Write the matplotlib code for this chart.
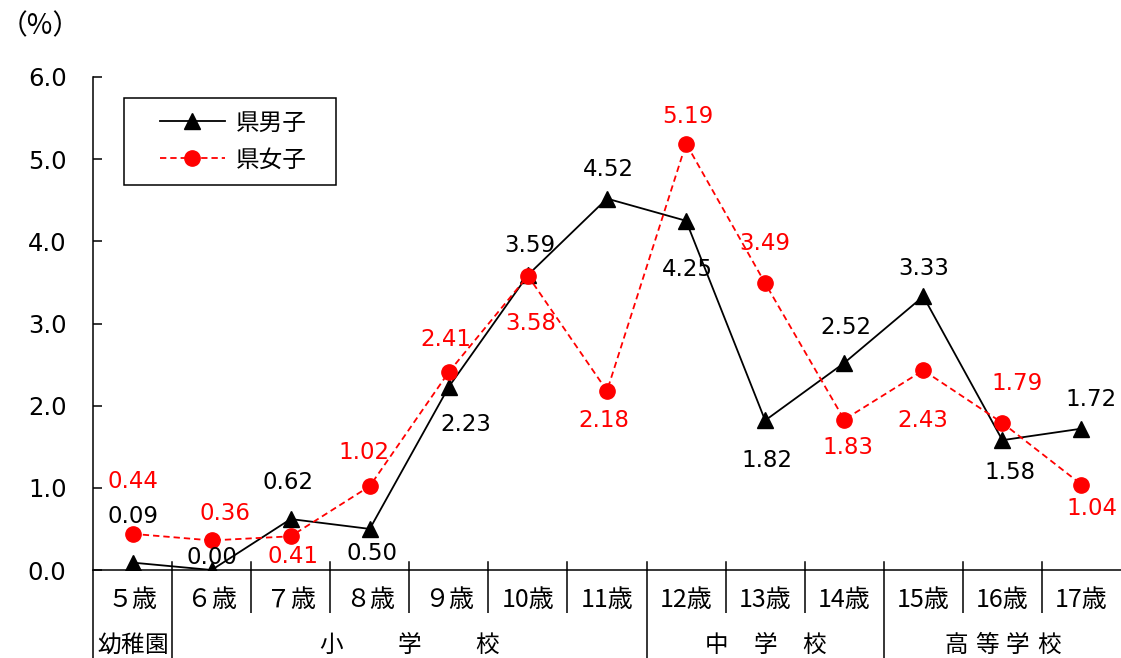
import matplotlib
matplotlib.use("Agg")
import matplotlib.pyplot as plt
import matplotlib.transforms as mtransforms
from matplotlib.patches import Rectangle

plt.rcParams['font.family'] = ['Noto Sans CJK JP', 'DejaVu Sans']

# ---- data ----
ages = ["５歳", "６歳", "７歳", "８歳", "９歳", "10歳", "11歳", "12歳", "13歳", "14歳", "15歳", "16歳", "17歳"]
male = [0.09, 0.00, 0.62, 0.50, 2.23, 3.59, 4.52, 4.25, 1.82, 2.52, 3.33, 1.58, 1.72]
female = [0.44, 0.36, 0.41, 1.02, 2.41, 3.58, 2.18, 5.19, 3.49, 1.83, 2.43, 1.79, 1.04]
groups = ["幼稚園", "小学校", "中学校", "高等学校"]
group_first = [0, 1, 7, 10]
group_last = [0, 6, 9, 12]
yticks = [0.0, 1.0, 2.0, 3.0, 4.0, 5.0, 6.0]

# ---- label offsets (pixels: dx right, dy up) ----
male_off = [(0, 46), (0, 12), (-3, 37), (2, -25), (17, -38), (2, 30), (1, 29),
            (1, -49), (2, -40), (2, 35), (0, 28), (8, -32), (10, 29)]
female_off = [(0, 52), (13, 27), (2, -20), (-6, 34), (-3, 32), (3, -48), (-3, -30),
              (2, 27), (0, 40), (4, -28), (0, -50), (15, 39), (10, -24)]
group_spacing_px = [23, 78, 49, 31]

W, H = 1121, 658
fig = plt.figure(figsize=(W / 100, H / 100), dpi=100)
ax = fig.add_axes([93 / W, 1 - 570 / H, 1028 / W, 493 / H])

n = len(ages)
x = list(range(n))
red = "#FF0000"

ax.plot(x, male, color="black", lw=1.3, marker="^", markersize=11.5,
        markerfacecolor="black", markeredgecolor="black", label="県男子", zorder=3)
ax.plot(x, female, color=red, lw=1.3, linestyle=(0, (3.5, 2.2)), marker="o",
        markersize=11, markerfacecolor=red, markeredgecolor=red, label="県女子", zorder=4)

ax.set_xlim(-0.5, n - 0.5)
ax.set_ylim(0, 6)
ax.set_yticks(yticks)
ax.set_yticklabels([f"{v:.1f}" for v in yticks], fontfamily="DejaVu Sans", fontsize=17.5)
ax.tick_params(axis="y", direction="in", length=6.5, width=1.1, pad=19)
ax.set_xticks([])
for s in ["top", "right"]:
    ax.spines[s].set_visible(False)
for s in ["left", "bottom"]:
    ax.spines[s].set_linewidth(1.1)

# data labels
for i in range(n):
    dx, dy = male_off[i]
    ax.annotate(f"{male[i]:.2f}", (x[i], male[i]), xytext=(dx * 0.72, dy * 0.72),
                textcoords="offset points", ha="center", va="center",
                fontsize=16.5, fontfamily="DejaVu Sans", color="black", zorder=5)
    dx, dy = female_off[i]
    ax.annotate(f"{female[i]:.2f}", (x[i], female[i]), xytext=(dx * 0.72, dy * 0.72),
                textcoords="offset points", ha="center", va="center",
                fontsize=16.5, fontfamily="DejaVu Sans", color=red, zorder=5)

# category table below axis
trans = mtransforms.blended_transform_factory(ax.transData, ax.transAxes)
ah = 493.0
boundaries = set([g - 0.5 for g in group_first])
for k in range(n + 1):
    bx = k - 0.5
    if k < n and k > 0:
        ax.plot([bx, bx], [0, 8 / ah], color="black", lw=1.1, transform=trans, clip_on=False)
    if k < n:
        bottom = -88 / ah if bx in boundaries else -43 / ah
        ax.plot([bx, bx], [0, bottom], color="black", lw=1.1, transform=trans,
                clip_on=False, solid_capstyle="butt")

for i, a in enumerate(ages):
    ax.text(x[i], -30 / ah, a, transform=trans, ha="center", va="center", fontsize=18)

px_per_unit = 1028 / n
for g, name in enumerate(groups):
    c = (group_first[g] + group_last[g]) / 2
    sp = group_spacing_px[g] / px_per_unit
    m = len(name)
    for j, ch in enumerate(name):
        ax.text(c + (j - (m - 1) / 2) * sp, -75 / ah, ch, transform=trans,
                ha="center", va="center", fontsize=17)

# legend
ax.add_patch(Rectangle((31 / 1028, 1 - 108 / ah), 212 / 1028, 87 / ah, transform=ax.transAxes,
                       fill=True, facecolor="white", edgecolor="black", lw=1.1, zorder=6))
leg = ax.legend(loc="center left", bbox_to_anchor=(67 / 1028, 1 - 64.5 / ah), frameon=False,
                borderpad=0, borderaxespad=0, handlelength=2.75, handletextpad=0.45,
                labelspacing=0.6, fontsize=17)
leg.set_zorder(7)

fig.text(0.0, 1 - 26 / H, "（%）", ha="left", va="center", fontsize=20)

fig.savefig("out.png", dpi=100)
